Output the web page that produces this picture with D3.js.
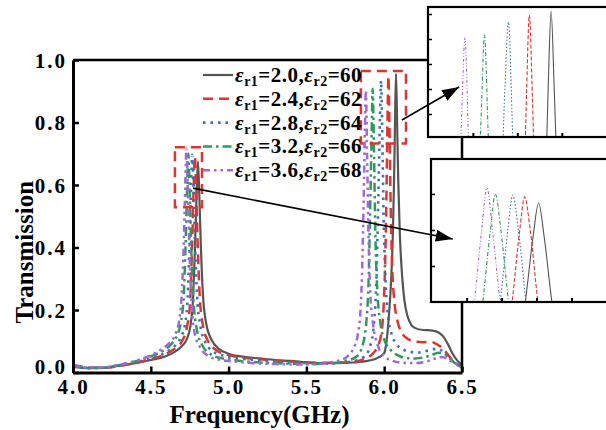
<!DOCTYPE html>
<html>
<head>
<meta charset="utf-8">
<script src="https://d3js.org/d3.v7.min.js"></script>
<style>
  body { margin: 0; background: #fff; }
  text { font-family: "Liberation Serif", "Times New Roman", serif; font-weight: bold; }
</style>
</head>
<body>
<script>
// Series: [frequency (GHz), transmission]
const black = [[4.0,0.018],[4.1,0.014],[4.2,0.015],[4.3,0.022],[4.4,0.03],[4.5,0.04],[4.6,0.053],[4.65,0.065],[4.7,0.085],[4.73,0.105],[4.755,0.15],[4.772,0.24],[4.784,0.4],[4.795,0.58],[4.803,0.675],[4.811,0.58],[4.822,0.4],[4.835,0.25],[4.855,0.16],[4.89,0.105],[4.94,0.075],[5.0,0.06],[5.1,0.05],[5.2,0.045],[5.3,0.04],[5.4,0.037],[5.5,0.033],[5.6,0.03],[5.7,0.03],[5.8,0.032],[5.9,0.038],[5.95,0.045],[6.0,0.062],[6.015,0.1],[6.03,0.18],[6.045,0.3],[6.056,0.45],[6.064,0.63],[6.07,0.82],[6.076,0.956],[6.083,0.8],[6.09,0.62],[6.1,0.45],[6.115,0.31],[6.13,0.23],[6.15,0.18],[6.175,0.152],[6.2,0.142],[6.25,0.136],[6.3,0.135],[6.35,0.128],[6.38,0.115],[6.41,0.09],[6.44,0.06],[6.47,0.038],[6.5,0.025]];
const red = [[4.0,0.025],[4.1,0.016],[4.2,0.015],[4.3,0.021],[4.4,0.03],[4.5,0.043],[4.6,0.06],[4.65,0.075],[4.7,0.1],[4.73,0.14],[4.752,0.22],[4.765,0.4],[4.776,0.6],[4.783,0.692],[4.791,0.6],[4.802,0.4],[4.815,0.24],[4.835,0.15],[4.87,0.098],[4.92,0.072],[5.0,0.056],[5.1,0.047],[5.2,0.042],[5.3,0.038],[5.4,0.035],[5.5,0.032],[5.6,0.031],[5.7,0.031],[5.8,0.034],[5.88,0.045],[5.93,0.062],[5.96,0.085],[5.98,0.12],[5.995,0.2],[6.006,0.35],[6.014,0.55],[6.021,0.8],[6.027,0.948],[6.034,0.78],[6.042,0.52],[6.052,0.33],[6.065,0.23],[6.085,0.165],[6.11,0.13],[6.15,0.108],[6.2,0.099],[6.25,0.097],[6.3,0.098],[6.34,0.09],[6.38,0.075],[6.42,0.05],[6.46,0.03],[6.5,0.018]];
const blue = [[4.0,0.02],[4.1,0.014],[4.2,0.015],[4.3,0.022],[4.4,0.032],[4.5,0.046],[4.6,0.065],[4.65,0.083],[4.69,0.11],[4.72,0.155],[4.737,0.24],[4.748,0.4],[4.759,0.6],[4.766,0.697],[4.774,0.6],[4.785,0.4],[4.798,0.24],[4.818,0.15],[4.85,0.097],[4.9,0.068],[5.0,0.05],[5.1,0.043],[5.2,0.039],[5.3,0.035],[5.4,0.032],[5.5,0.03],[5.6,0.029],[5.7,0.031],[5.8,0.036],[5.87,0.05],[5.91,0.085],[5.935,0.16],[5.95,0.3],[5.962,0.55],[5.972,0.8],[5.98,0.934],[5.988,0.75],[5.996,0.5],[6.008,0.3],[6.025,0.18],[6.05,0.12],[6.08,0.09],[6.12,0.074],[6.17,0.066],[6.22,0.064],[6.28,0.07],[6.34,0.076],[6.38,0.066],[6.42,0.045],[6.46,0.028],[6.5,0.016]];
const green = [[4.0,0.022],[4.1,0.015],[4.2,0.016],[4.3,0.024],[4.4,0.035],[4.5,0.052],[4.58,0.07],[4.63,0.09],[4.67,0.12],[4.695,0.165],[4.712,0.25],[4.723,0.4],[4.734,0.6],[4.741,0.70],[4.749,0.6],[4.76,0.4],[4.773,0.24],[4.795,0.14],[4.83,0.088],[4.88,0.06],[4.95,0.046],[5.0,0.042],[5.1,0.036],[5.2,0.032],[5.3,0.03],[5.4,0.028],[5.5,0.027],[5.6,0.028],[5.7,0.032],[5.75,0.037],[5.82,0.05],[5.86,0.085],[5.885,0.16],[5.9,0.3],[5.911,0.55],[5.92,0.78],[5.926,0.908],[5.934,0.72],[5.943,0.45],[5.955,0.27],[5.975,0.16],[6.0,0.105],[6.05,0.068],[6.1,0.052],[6.15,0.046],[6.2,0.045],[6.25,0.048],[6.3,0.055],[6.35,0.063],[6.38,0.062],[6.42,0.045],[6.46,0.028],[6.5,0.015]];
const purple = [[4.0,0.024],[4.1,0.016],[4.2,0.017],[4.3,0.025],[4.4,0.037],[4.5,0.055],[4.57,0.075],[4.62,0.095],[4.66,0.125],[4.685,0.175],[4.7,0.26],[4.711,0.4],[4.722,0.61],[4.729,0.717],[4.737,0.6],[4.748,0.4],[4.76,0.24],[4.78,0.13],[4.82,0.078],[4.87,0.053],[4.95,0.04],[5.0,0.037],[5.1,0.032],[5.2,0.029],[5.3,0.027],[5.4,0.026],[5.5,0.026],[5.6,0.028],[5.65,0.032],[5.7,0.037],[5.76,0.05],[5.8,0.075],[5.83,0.12],[5.848,0.2],[5.86,0.36],[5.868,0.55],[5.876,0.78],[5.882,0.902],[5.89,0.7],[5.899,0.44],[5.91,0.26],[5.93,0.15],[5.96,0.085],[6.0,0.052],[6.05,0.038],[6.1,0.032],[6.2,0.03],[6.27,0.035],[6.33,0.045],[6.37,0.05],[6.41,0.042],[6.45,0.03],[6.5,0.02]];

const eps1 = [2.0, 2.4, 2.8, 3.2, 3.6];
const eps2 = [60, 62, 64, 66, 68];

const xTicks = [4.0, 4.5, 5.0, 5.5, 6.0, 6.5];
const yTicks = [0.0, 0.2, 0.4, 0.6, 0.8, 1.0];

// inset ticks (unlabelled)
const topInsetX = [5.9, 6.0, 6.1];
const topInsetY = [0.75, 0.8, 0.85, 0.9, 0.95];
const botInsetX = [4.70, 4.75, 4.80, 4.85];
const botInsetY = [0.5, 0.6, 0.7];

// zoomed regions [f0, f1, t0, t1] and arrow [tail f, tail t, head f, head t]
const zoomRight = [5.85, 6.14, 0.733, 0.965];
const zoomLeft = [4.655, 4.829, 0.529, 0.721];
const arrowRight = [6.114, 0.808, 5.869, 0.804];
const arrowLeft = [4.771, 0.590, 4.680, 0.575];

const series = [black, red, blue, green, purple];
const styles = [
    {color: "#555555", dash: null, inDash: null, w: 2.2},
    {color: "#e2332f", dash: "10,6", inDash: "4,2", w: 2.5},
    {color: "#3c6fbd", dash: "2.5,5", inDash: "1.5,2", w: 2.6},
    {color: "#2c9a5c", dash: "9,4,2.5,4", inDash: "4,2,1,2", w: 2.5},
    {color: "#a467d8", dash: "7,4,2.5,4,2.5,4", inDash: "3,2,1,2,1,2", w: 2.5}
];

const width = 606,
    height = 430;

const svg = d3.select("body").append("svg")
    .attr("width", width)
    .attr("height", height);

const x = d3.scaleLinear().domain([4, 6.5]).range([73, 462]);
const y = d3.scaleLinear().domain([0, 1]).range([372.5, 60]);

const line = (sx, sy) => d3.line()
    .x(d => sx(d[0]))
    .y(d => sy(d[1]))
    .curve(d3.curveMonotoneX);

// curves
svg.append("g")
    .selectAll("path")
    .data(series)
    .join("path")
    .attr("d", d => line(x, y)(d))
    .attr("fill", "none")
    .attr("stroke", (d, i) => styles[i].color)
    .attr("stroke-width", (d, i) => styles[i].w)
    .attr("stroke-dasharray", (d, i) => styles[i].dash);

// axes
const xAxis = svg.append("g")
    .attr("transform", `translate(0,${y(0)})`)
    .call(d3.axisBottom(x).tickValues(xTicks).tickSize(-6).tickSizeOuter(0).tickPadding(7)
        .tickFormat(d3.format(".1f")));

const yAxis = svg.append("g")
    .attr("transform", `translate(${x(4)},0)`)
    .call(d3.axisLeft(y).tickValues(yTicks).tickSize(-6).tickSizeOuter(0).tickPadding(6)
        .tickFormat(d3.format(".1f")));

[xAxis, yAxis].forEach(a => {
    a.select(".domain").attr("stroke", "#000").attr("stroke-width", 3);
    a.selectAll(".tick line").attr("stroke", "#000").attr("stroke-width", 2.5);
    a.selectAll(".tick text")
        .attr("fill", "#000")
        .style("font-size", "21px")
        .style("letter-spacing", "2px");
});
yAxis.selectAll(".tick text").attr("dy", d => d === 0 ? "0.05em" : "0.35em");

// frame top and right
svg.append("path")
    .attr("d", `M${x(4)},${y(1)}H${x(6.5)}V${y(0)}`)
    .attr("fill", "none")
    .attr("stroke", "#000")
    .attr("stroke-width", 2.5);

svg.append("text")
    .attr("x", (x(4) + x(6.5)) / 2 - 8)
    .attr("y", 423)
    .attr("text-anchor", "middle")
    .style("font-size", "25px")
    .text("Frequency(GHz)");

svg.append("text")
    .attr("transform", `translate(33,${(y(0) + y(1)) / 2 + 36}) rotate(-90)`)
    .attr("text-anchor", "middle")
    .style("font-size", "25px")
    .text("Transmission");

// dashed zoom boxes
svg.append("g")
    .selectAll("rect")
    .data([zoomRight, zoomLeft])
    .join("rect")
    .attr("x", d => x(d[0]))
    .attr("y", d => y(d[3]))
    .attr("width", d => x(d[1]) - x(d[0]))
    .attr("height", d => y(d[2]) - y(d[3]))
    .attr("fill", "none")
    .attr("stroke", "#e2332f")
    .attr("stroke-width", 2.5)
    .attr("stroke-dasharray", "10,6");

// legend
const legend = svg.append("g");
series.forEach((s, i) => {
    const ly = 75 + i * 23.8;
    legend.append("line")
        .attr("x1", 203).attr("x2", 233)
        .attr("y1", ly).attr("y2", ly)
        .attr("stroke", styles[i].color)
        .attr("stroke-width", styles[i].w)
        .attr("stroke-dasharray", styles[i].dash);
    const t = legend.append("text")
        .attr("x", 235)
        .attr("y", ly + 7)
        .style("font-size", "21px")
        .style("letter-spacing", "0.5px");
    t.append("tspan").style("font-style", "italic").text("ε");
    t.append("tspan").style("font-size", "14px").attr("dy", 4).text("r1");
    t.append("tspan").attr("dy", -4).text(`=${eps1[i].toFixed(1)},`);
    t.append("tspan").style("font-style", "italic").text("ε");
    t.append("tspan").style("font-size", "14px").attr("dy", 4).text("r2");
    t.append("tspan").attr("dy", -4).text(`=${eps2[i]}`);
});

// insets
const insets = [
    {id: "topInset", box: [428, 7, 612, 137], xd: [5.799, 6.213], yd: [0.704, 0.964], xt: topInsetX, yt: topInsetY},
    {id: "botInset", box: [431, 159, 612, 302], xd: [4.649, 4.908], yd: [0.40, 0.797], xt: botInsetX, yt: botInsetY}
];

insets.forEach(ins => {
    const [x0, y0, x1, y1] = ins.box;
    ins.sx = d3.scaleLinear().domain(ins.xd).range([x0, x1]);
    ins.sy = d3.scaleLinear().domain(ins.yd).range([y1, y0]);
    const g = svg.append("g");
    g.append("clipPath").attr("id", ins.id + "Clip")
        .append("rect").attr("x", x0).attr("y", y0).attr("width", x1 - x0).attr("height", y1 - y0);
    g.append("rect")
        .attr("x", x0).attr("y", y0).attr("width", x1 - x0).attr("height", y1 - y0)
        .attr("fill", "#fff");
    g.append("g")
        .attr("clip-path", `url(#${ins.id}Clip)`)
        .selectAll("path")
        .data(series)
        .join("path")
        .attr("d", d => line(ins.sx, ins.sy)(d))
        .attr("fill", "none")
        .attr("stroke", (d, i) => styles[i].color)
        .attr("stroke-width", 1.1)
        .attr("stroke-dasharray", (d, i) => styles[i].inDash);
    g.append("g")
        .attr("transform", `translate(0,${y1})`)
        .call(d3.axisBottom(ins.sx).tickValues(ins.xt).tickSize(-4).tickSizeOuter(0).tickFormat(""))
        .call(a => a.select(".domain").remove())
        .selectAll("line").attr("stroke", "#000").attr("stroke-width", 2);
    g.append("g")
        .attr("transform", `translate(${x0},0)`)
        .call(d3.axisLeft(ins.sy).tickValues(ins.yt).tickSize(-4).tickSizeOuter(0).tickFormat(""))
        .call(a => a.select(".domain").remove())
        .selectAll("line").attr("stroke", "#000").attr("stroke-width", 1.5);
    g.append("rect")
        .attr("x", x0).attr("y", y0).attr("width", x1 - x0).attr("height", y1 - y0)
        .attr("fill", "none")
        .attr("stroke", "#000")
        .attr("stroke-width", 2.2);
});

// arrows
svg.append("defs").append("marker")
    .attr("id", "head")
    .attr("markerUnits", "userSpaceOnUse")
    .attr("markerWidth", 17).attr("markerHeight", 12)
    .attr("refX", 17).attr("refY", 6)
    .attr("orient", "auto")
    .append("path")
    .attr("d", "M0,0L17,6L0,12Z")
    .attr("fill", "#000");

[[arrowRight, insets[0]], [arrowLeft, insets[1]]].forEach(([a, ins]) => {
    svg.append("line")
        .attr("x1", x(a[0])).attr("y1", y(a[1]))
        .attr("x2", ins.sx(a[2])).attr("y2", ins.sy(a[3]))
        .attr("stroke", "#000")
        .attr("stroke-width", 1.6)
        .attr("marker-end", "url(#head)");
});
</script>
</body>
</html>
